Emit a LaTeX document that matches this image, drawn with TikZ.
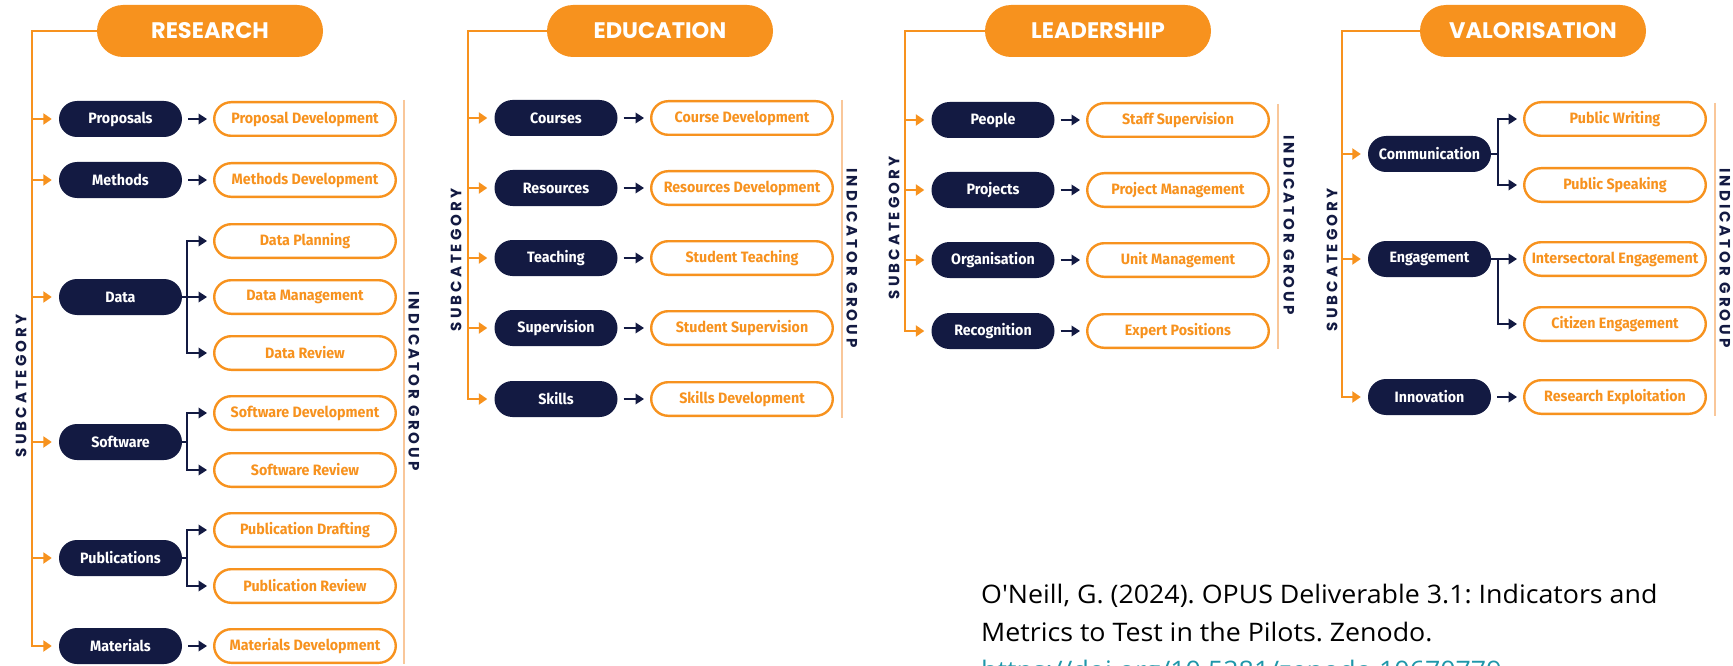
\documentclass[tikz,border=0pt]{standalone}
\usepackage{fontspec}
\usetikzlibrary{arrows.meta,calc}

\newfontfamily\headfont{Poppins}
\newfontfamily\pillfont{Fira Sans}[FakeStretch=0.95]
\newfontfamily\sidefont{Poppins}[LetterSpace=20]
\newfontfamily\citefont{Open Sans}[FakeStretch=1.05,Ligatures=TeXOff]
\frenchspacing

\definecolor{opusorange}{HTML}{F7921E}
\definecolor{opusnavy}{HTML}{131A42}
\definecolor{opuspale}{HTML}{F9C79A}
\definecolor{opuslink}{HTML}{1F97AA}

\tikzset{
  head/.style={fill=opusorange, rounded corners=26pt, minimum width=226pt,
    minimum height=52pt, inner sep=0pt, text=white,
    font=\headfont\bfseries\fontsize{22.5}{26}\selectfont},
  sub/.style={fill=opusnavy, rounded corners=18pt, minimum width=123pt,
    minimum height=36pt, inner sep=0pt, text=white,
    font=\pillfont\bfseries\fontsize{15}{17}\selectfont},
  ind/.style={draw=opusorange, line width=2.4pt, fill=white, rounded corners=17pt,
    minimum width=181.6pt, minimum height=33.6pt, inner sep=0pt, text=opusorange,
    font=\pillfont\bfseries\fontsize{15}{17}\selectfont},
  oline/.style={draw=opusorange, line width=2.2pt},
  oarrow/.style={oline, -{Triangle[length=8.5pt,width=11pt]}, shorten >=7pt},
  narrow/.style={draw=opusnavy, line width=2.4pt, -{Triangle[length=8.5pt,width=10.5pt]}, shorten >=6pt},
  sidelabel/.style={text=opusnavy, inner sep=0pt,
    font=\sidefont\bfseries\fontsize{15}{15}\selectfont},
  indline/.style={draw=opuspale, line width=1.5pt},
  cite/.style={inner sep=0pt, anchor=base west, text=black,
    font=\citefont\fontsize{25.5}{30}\selectfont},
}

\begin{document}
\begin{tikzpicture}[x=1pt,y=-1pt]
\useasboundingbox (0,0) rectangle (1733,666);
\clip (0,0) rectangle (1733,666);
\fill[white] (0,0) rectangle (1733,666);

% ---------------- RESEARCH ----------------
\node[head] (hR) at (210,31) {RESEARCH};
\coordinate (tR) at (32,31);
\node[sub] (rProp) at (120.5,119) {Proposals};
\node[sub] (rMeth) at (120.5,180) {Methods};
\node[sub] (rData) at (120.5,297) {Data};
\node[sub] (rSoft) at (120.5,442) {Software};
\node[sub] (rPub)  at (120.5,558) {Publications};
\node[sub] (rMat)  at (120.5,646) {Materials};

\node[ind] (rPropDev) at (305,119) {Proposal Development};
\node[ind] (rMethDev) at (305,180) {Methods Development};
\node[ind] (rDPlan)   at (305,241) {Data Planning};
\node[ind] (rDMan)    at (305,297) {Data Management};
\node[ind] (rDRev)    at (305,353) {Data Review};
\node[ind] (rSDev)    at (305,413) {Software Development};
\node[ind] (rSRev)    at (305,470) {Software Review};
\node[ind] (rPDraft)  at (305,530) {Publication Drafting};
\node[ind] (rPRev)    at (305,586) {Publication Review};
\node[ind] (rMatDev)  at (305,646) {Materials Development};

\draw[oarrow] (hR.west) -- (tR) |- (rMat.west);
\foreach \n in {rProp,rMeth,rData,rSoft,rPub}
  \draw[oarrow] (tR |- \n.west) -- (\n.west);

\draw[narrow, shorten <=6pt] (rProp.east) -- (rPropDev.west);
\draw[narrow, shorten <=6pt] (rMeth.east) -- (rMethDev.west);
\draw[narrow, shorten <=6pt] (rMat.east) -- (rMatDev.west);
\coordinate (rDb) at (187,297);
\draw[narrow] (rData.east) -- (rDb) |- (rDPlan.west);
\draw[narrow] (rDb) -- (rDMan.west);
\draw[narrow] (rDb) |- (rDRev.west);
\coordinate (rSb) at (187,442);
\draw[narrow] (rSoft.east) -- (rSb) |- (rSDev.west);
\draw[narrow] (rSb) |- (rSRev.west);
\coordinate (rPb) at (187,558);
\draw[narrow] (rPub.east) -- (rPb) |- (rPDraft.west);
\draw[narrow] (rPb) |- (rPRev.west);

\draw[indline] (404,100) -- (404,664);
\node[sidelabel, rotate=90]  (rSc) at (21,386)  {SUBCATEGORY};
\node[sidelabel, rotate=-90] (rIg) at (414,381) {INDICATOR GROUP};

% ---------------- EDUCATION ----------------
\node[head] (hE) at (660,31) {EDUCATION};
\coordinate (tE) at (468,31);
\node[sub] (eCour) at (556,118) {Courses};
\node[sub] (eRes)  at (556,188) {Resources};
\node[sub] (eTeach) at (556,258) {Teaching};
\node[sub] (eSup)  at (556,328) {Supervision};
\node[sub] (eSkill) at (556,399) {Skills};

\node[ind] (eCourDev)  at (742,118) {Course Development};
\node[ind] (eResDev)   at (742,188) {Resources Development};
\node[ind] (eStTeach)  at (742,258) {Student Teaching};
\node[ind] (eStSup)    at (742,328) {Student Supervision};
\node[ind] (eSkillDev) at (742,399) {Skills Development};

\draw[oarrow] (hE.west) -- (tE) |- (eSkill.west);
\foreach \n in {eCour,eRes,eTeach,eSup}
  \draw[oarrow] (tE |- \n.west) -- (\n.west);
\draw[narrow, shorten <=6pt] (eCour.east) -- (eCourDev.west);
\draw[narrow, shorten <=6pt] (eRes.east) -- (eResDev.west);
\draw[narrow, shorten <=6pt] (eTeach.east) -- (eStTeach.west);
\draw[narrow, shorten <=6pt] (eSup.east) -- (eStSup.west);
\draw[narrow, shorten <=6pt] (eSkill.east) -- (eSkillDev.west);

\draw[indline] (842,100) -- (842,418);
\node[sidelabel, rotate=90]  (eSc) at (456,260) {SUBCATEGORY};
\node[sidelabel, rotate=-90] (eIg) at (852,258) {INDICATOR GROUP};

% ---------------- LEADERSHIP ----------------
\node[head] (hL) at (1098,31) {LEADERSHIP};
\coordinate (tL) at (905,31);
\node[sub] (lPeop) at (993,120) {People};
\node[sub] (lProj) at (993,190) {Projects};
\node[sub] (lOrg)  at (993,260) {Organisation};
\node[sub] (lRec)  at (993,331) {Recognition};

\node[ind] (lStaff) at (1178,120) {Staff Supervision};
\node[ind] (lPMan)  at (1178,190) {Project Management};
\node[ind] (lUMan)  at (1178,260) {Unit Management};
\node[ind] (lExp)   at (1178,331) {Expert Positions};

\draw[oarrow] (hL.west) -- (tL) |- (lRec.west);
\foreach \n in {lPeop,lProj,lOrg}
  \draw[oarrow] (tL |- \n.west) -- (\n.west);
\draw[narrow, shorten <=6pt] (lPeop.east) -- (lStaff.west);
\draw[narrow, shorten <=6pt] (lProj.east) -- (lPMan.west);
\draw[narrow, shorten <=6pt] (lOrg.east) -- (lUMan.west);
\draw[narrow, shorten <=6pt] (lRec.east) -- (lExp.west);

\draw[indline] (1278,104) -- (1278,349);
\node[sidelabel, rotate=90]  (lSc) at (894,228)  {SUBCATEGORY};
\node[sidelabel, rotate=-90] (lIg) at (1289,225) {INDICATOR GROUP};

% ---------------- VALORISATION ----------------
\node[head] (hV) at (1533,31) {VALORISATION};
\coordinate (tV) at (1342,31);
\node[sub] (vCom) at (1429.5,154) {Communication};
\node[sub] (vEng) at (1429.5,259) {Engagement};
\node[sub] (vInn) at (1429.5,397) {Innovation};

\node[ind] (vWrite) at (1615,119) {Public Writing};
\node[ind] (vSpeak) at (1615,185) {Public Speaking};
\node[ind] (vInter) at (1615,259) {Intersectoral Engagement};
\node[ind] (vCit)   at (1615,324) {Citizen Engagement};
\node[ind] (vExpl)  at (1615,397) {Research Exploitation};

\draw[oarrow] (hV.west) -- (tV) |- (vInn.west);
\foreach \n in {vCom,vEng}
  \draw[oarrow] (tV |- \n.west) -- (\n.west);
\coordinate (vCb) at (1498,154);
\draw[narrow] (vCom.east) -- (vCb) |- (vWrite.west);
\draw[narrow] (vCb) |- (vSpeak.west);
\coordinate (vEb) at (1498,259);
\draw[narrow] (vEng.east) -- (vEb) -- (vInter.west);
\draw[narrow] (vEb) |- (vCit.west);
\draw[narrow, shorten <=6pt] (vInn.east) -- (vExpl.west);

\draw[indline] (1715,103) -- (1715,416);
\node[sidelabel, rotate=90]  (vSc) at (1332,260) {SUBCATEGORY};
\node[sidelabel, rotate=-90] (vIg) at (1725,258) {INDICATOR GROUP};

% ---------------- reference ----------------
\node[cite] (c1) at (981,603) {O'Neill, G. (2024). OPUS Deliverable 3.1: Indicators and};
\node[cite] (c2) at (981,641) {Metrics to Test in the Pilots. Zenodo.};
\node[cite, text=opuslink] (c3) at (981,679) {https://doi.org/10.5281/zenodo.10670779};
\end{tikzpicture}
\end{document}
